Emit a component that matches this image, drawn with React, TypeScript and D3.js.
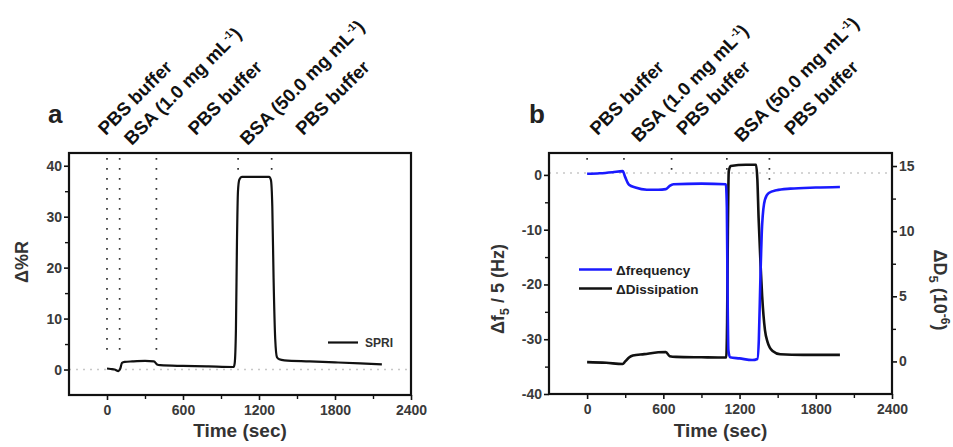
import React, { useRef, useEffect } from "react";
import * as d3 from "d3";

const W = 953;
const H = 447;

// ─── panel a: SPRI response  [time (sec), Δ%R] ─────────────────────────
const spriData: [number, number][] = [
  [0, 0.2], [30, 0.1], [60, 0.0], [90, -0.3], [105, 0.2], [118, 1.3], [140, 1.5],
  [200, 1.6], [300, 1.7], [370, 1.6], [395, 1.0], [420, 0.85], [600, 0.7],
  [800, 0.6], [1000, 0.5], [1008, 1.2], [1018, 8], [1026, 25], [1034, 35],
  [1045, 37.3], [1065, 37.8], [1200, 37.8], [1280, 37.8], [1294, 37.2],
  [1305, 32], [1315, 18], [1328, 6], [1342, 2.4], [1360, 2.0], [1400, 1.8],
  [1600, 1.6], [1800, 1.4], [2000, 1.2], [2170, 1.0],
];

// ─── panel b: QCM-D  [time (sec), Δf5/5 (Hz)] and [time (sec), ΔD5 (1e-6)] ─
const freqData: [number, number][] = [
  [0, 0.2], [100, 0.3], [200, 0.5], [280, 0.7], [300, -0.4], [330, -1.8],
  [380, -2.3], [470, -2.7], [560, -2.7], [620, -2.6], [650, -2.0], [680, -1.7],
  [900, -1.6], [1092, -1.7], [1100, -6], [1105, -20], [1112, -32], [1125, -33.3],
  [1200, -33.5], [1300, -33.8], [1340, -33.6], [1352, -30], [1365, -18],
  [1378, -9], [1400, -4.5], [1430, -3.3], [1490, -2.8], [1600, -2.5],
  [1800, -2.3], [1990, -2.2],
];

const dissData: [number, number][] = [
  [0, -0.05], [150, -0.1], [280, -0.2], [300, 0.0], [330, 0.3], [360, 0.45],
  [450, 0.56], [560, 0.7], [620, 0.72], [650, 0.4], [700, 0.35], [900, 0.32],
  [1095, 0.3], [1102, 3], [1108, 10], [1115, 14.6], [1130, 15.0], [1250, 15.1],
  [1330, 15.1], [1340, 14], [1350, 11], [1365, 7.5], [1378, 5], [1400, 2.4],
  [1420, 1.5], [1460, 0.8], [1520, 0.55], [1700, 0.5], [1990, 0.5],
];

// injection markers: [time, value where the dotted line stops]
const spriMarkers: [number, number][] = [[0, 2.3], [100, 2.3], [390, 2.3], [1035, 39], [1300, 39]];
const qcmMarkers: [number, number][] = [[0, 1.8], [290, 1.8], [665, 0.4], [1100, 0.4], [1435, -2.2]];

const stepLabels = [
  { main: "PBS buffer", sup: "", tail: "" },
  { main: "BSA (1.0 mg mL", sup: "-1", tail: ")" },
  { main: "PBS buffer", sup: "", tail: "" },
  { main: "BSA (50.0 mg mL", sup: "-1", tail: ")" },
  { main: "PBS buffer", sup: "", tail: "" },
];
// time where each rotated label begins
const spriLabelTimes = [-10, 195, 700, 1110, 1550];
const qcmLabelTimes = [82, 408, 762, 1220, 1612];

const timeTicks = [0, 600, 1200, 1800, 2400];
const timeMinor = [300, 900, 1500, 2100];
const spriTicks = [0, 10, 20, 30, 40];
const spriMinor = [5, 15, 25, 35];
const freqTicks = [-40, -30, -20, -10, 0];
const freqMinor = [-35, -25, -15, -5];
const dissTicks = [0, 5, 10, 15];
const dissMinor = [2.5, 7.5, 12.5];

const FONT = "'Liberation Sans', Arial, sans-serif";
const TICK_COLOR = "#3a3a3a";
const BLUE = "#1a1aff";

export default function App() {
  const svgRef = useRef<SVGSVGElement>(null);

  useEffect(() => {
    const svg = d3.select(svgRef.current);
    svg.selectAll("*").remove();
    svg.style("font-family", FONT);

    const panelA = { left: 69, right: 411, top: 153, bottom: 395 };
    const panelB = { left: 549, right: 892, top: 153, bottom: 394 };

    const xA = d3.scaleLinear().domain([-300, 2400]).range([panelA.left, panelA.right]);
    const yA = d3.scaleLinear().domain([-5, 42.5]).range([panelA.bottom, panelA.top]);
    const xB = d3.scaleLinear().domain([-300, 2400]).range([panelB.left, panelB.right]);
    const yB = d3.scaleLinear().domain([-40, 4]).range([panelB.bottom, panelB.top]);
    const yB2 = d3.scaleLinear().domain([-2.5, 16]).range([panelB.bottom, panelB.top]);

    const styleAxis = (g: any) => {
      g.select(".domain").remove();
      g.selectAll("line").attr("stroke", "#111").attr("stroke-width", 1.6);
      g.selectAll("text")
        .attr("fill", TICK_COLOR)
        .style("font-size", "14px")
        .style("font-weight", "bold")
        .style("font-family", FONT);
    };

    const minorAxis = (g: any) => {
      g.select(".domain").remove();
      g.selectAll("text").remove();
      g.selectAll("line").attr("stroke", "#111").attr("stroke-width", 1.4);
    };

    const fmt = (d: any) => `${d}`.replace("−", "-");

    function drawAxes(x: any, y: any, p: any, yT: number[], yM: number[]) {
      svg.append("g").attr("transform", `translate(0,${p.bottom})`)
        .call(d3.axisBottom(x).tickValues(timeTicks).tickSize(5).tickPadding(5).tickFormat(fmt))
        .call(styleAxis);
      svg.append("g").attr("transform", `translate(0,${p.bottom})`)
        .call(d3.axisBottom(x).tickValues(timeMinor).tickSize(4))
        .call(minorAxis);
      svg.append("g").attr("transform", `translate(${p.left},0)`)
        .call(d3.axisLeft(y).tickValues(yT).tickSize(5).tickPadding(2).tickFormat(fmt))
        .call(styleAxis);
      svg.append("g").attr("transform", `translate(${p.left},0)`)
        .call(d3.axisLeft(y).tickValues(yM).tickSize(4))
        .call(minorAxis);
    }

    function drawFrame(p: any) {
      svg.append("rect")
        .attr("x", p.left).attr("y", p.top)
        .attr("width", p.right - p.left).attr("height", p.bottom - p.top)
        .attr("fill", "none").attr("stroke", "#111").attr("stroke-width", 2.2);
    }

    function drawMarkers(x: any, y: any, p: any, markers: [number, number][]) {
      svg.append("g").selectAll("line").data(markers).join("line")
        .attr("x1", (d) => x(d[0])).attr("x2", (d) => x(d[0]))
        .attr("y1", p.top + 5).attr("y2", (d) => y(d[1]))
        .attr("stroke", "#333").attr("stroke-width", 1.7)
        .attr("stroke-dasharray", "1.7 8.3");
    }

    function drawStepLabels(x: any, times: number[], yPbs: number, yBsa: number) {
      stepLabels.forEach((lab, i) => {
        const ty = lab.sup ? yBsa : yPbs;
        const t = svg.append("text")
          .attr("transform", `translate(${x(times[i])},${ty}) rotate(-45)`)
          .attr("fill", "#111")
          .style("font-size", "18.5px")
          .style("font-weight", "bold");
        t.append("tspan").text(lab.main);
        if (lab.sup) {
          t.append("tspan").attr("dy", -7).style("font-size", "10.5px").text(lab.sup);
          t.append("tspan").attr("dy", 7).text(lab.tail);
        }
      });
    }

    // ─── Panel a ────────────────────────────────────────────────────────
    svg.append("line")
      .attr("x1", panelA.left).attr("x2", panelA.right)
      .attr("y1", yA(0)).attr("y2", yA(0))
      .attr("stroke", "#c8c8c8").attr("stroke-width", 1.5)
      .attr("stroke-dasharray", "2 5");

    drawMarkers(xA, yA, panelA, spriMarkers);

    const lineA = d3.line<[number, number]>()
      .x((d) => xA(d[0])).y((d) => yA(d[1]))
      .curve(d3.curveMonotoneX);
    svg.append("path").datum(spriData)
      .attr("fill", "none").attr("stroke", "#111").attr("stroke-width", 2.2)
      .attr("stroke-linejoin", "round")
      .attr("d", lineA);

    drawFrame(panelA);
    drawAxes(xA, yA, panelA, spriTicks, spriMinor);
    drawStepLabels(xA, spriLabelTimes, 136, 146);

    // legend
    svg.append("line").attr("x1", 328).attr("x2", 358).attr("y1", 342.5).attr("y2", 342.5)
      .attr("stroke", "#111").attr("stroke-width", 2.2);
    svg.append("text").attr("x", 365).attr("y", 347)
      .attr("fill", "#333").style("font-size", "12px").style("font-weight", "bold")
      .text("SPRI");

    svg.append("text").attr("x", 48).attr("y", 123)
      .attr("fill", "#222").style("font-size", "26px").style("font-weight", "bold").text("a");

    svg.append("text")
      .attr("transform", `translate(28,262) rotate(-90)`)
      .attr("text-anchor", "middle").attr("fill", "#333")
      .style("font-size", "18px").style("font-weight", "bold")
      .text("Δ%R");

    svg.append("text")
      .attr("x", (panelA.left + panelA.right) / 2).attr("y", 437)
      .attr("text-anchor", "middle").attr("fill", "#333")
      .style("font-size", "19px").style("font-weight", "bold")
      .text("Time (sec)");

    // ─── Panel b ────────────────────────────────────────────────────────
    svg.append("line")
      .attr("x1", panelB.left).attr("x2", panelB.right)
      .attr("y1", yB(0.35)).attr("y2", yB(0.35))
      .attr("stroke", "#c8c8c8").attr("stroke-width", 1.5)
      .attr("stroke-dasharray", "2 5");

    drawMarkers(xB, yB, panelB, qcmMarkers);

    const lineF = d3.line<[number, number]>()
      .x((d) => xB(d[0])).y((d) => yB(d[1]))
      .curve(d3.curveMonotoneX);
    const lineD = d3.line<[number, number]>()
      .x((d) => xB(d[0])).y((d) => yB2(d[1]))
      .curve(d3.curveMonotoneX);

    svg.append("path").datum(dissData)
      .attr("fill", "none").attr("stroke", "#111").attr("stroke-width", 2.6)
      .attr("stroke-linejoin", "round")
      .attr("d", lineD);
    svg.append("path").datum(freqData)
      .attr("fill", "none").attr("stroke", BLUE).attr("stroke-width", 2.6)
      .attr("stroke-linejoin", "round")
      .attr("d", lineF);

    drawFrame(panelB);
    drawAxes(xB, yB, panelB, freqTicks, freqMinor);

    svg.append("g").attr("transform", `translate(${panelB.right},0)`)
      .call(d3.axisRight(yB2).tickValues(dissTicks).tickSize(5).tickPadding(2).tickFormat(fmt))
      .call(styleAxis);
    svg.append("g").attr("transform", `translate(${panelB.right},0)`)
      .call(d3.axisRight(yB2).tickValues(dissMinor).tickSize(4))
      .call(minorAxis);

    drawStepLabels(xB, qcmLabelTimes, 136, 143);

    // legend
    const legend = [
      { label: "Δfrequency", color: BLUE, y: 269.5 },
      { label: "ΔDissipation", color: "#111", y: 288.5 },
    ];
    legend.forEach((l) => {
      svg.append("line").attr("x1", 579).attr("x2", 612).attr("y1", l.y).attr("y2", l.y)
        .attr("stroke", l.color).attr("stroke-width", 2.6);
      svg.append("text").attr("x", 616).attr("y", l.y + 5)
        .attr("fill", "#222").style("font-size", "13.5px").style("font-weight", "bold")
        .text(l.label);
    });

    svg.append("text").attr("x", 529).attr("y", 123)
      .attr("fill", "#222").style("font-size", "26px").style("font-weight", "bold").text("b");

    const leftTitle = svg.append("text")
      .attr("transform", `translate(504,289) rotate(-90)`)
      .attr("text-anchor", "middle").attr("fill", "#333")
      .style("font-size", "18px").style("font-weight", "bold");
    leftTitle.append("tspan").text("Δf");
    leftTitle.append("tspan").attr("dy", 5).style("font-size", "13px").text("5");
    leftTitle.append("tspan").attr("dy", -5).text(" / 5 (Hz)");

    const rightTitle = svg.append("text")
      .attr("transform", `translate(934,290) rotate(90)`)
      .attr("text-anchor", "middle").attr("fill", "#333")
      .style("font-size", "18px").style("font-weight", "bold");
    rightTitle.append("tspan").text("ΔD");
    rightTitle.append("tspan").attr("dy", 5).style("font-size", "13px").text("5");
    rightTitle.append("tspan").attr("dy", -5).text("  (10");
    rightTitle.append("tspan").attr("dy", -7).style("font-size", "12px").text("-6");
    rightTitle.append("tspan").attr("dy", 7).text(")");

    svg.append("text")
      .attr("x", (panelB.left + panelB.right) / 2).attr("y", 437)
      .attr("text-anchor", "middle").attr("fill", "#333")
      .style("font-size", "19px").style("font-weight", "bold")
      .text("Time (sec)");
  }, []);

  return (
    <svg
      ref={svgRef}
      width={W}
      height={H}
      viewBox={`0 0 ${W} ${H}`}
      style={{ position: "absolute", left: 0, top: 0, background: "#fff" }}
    />
  );
}
